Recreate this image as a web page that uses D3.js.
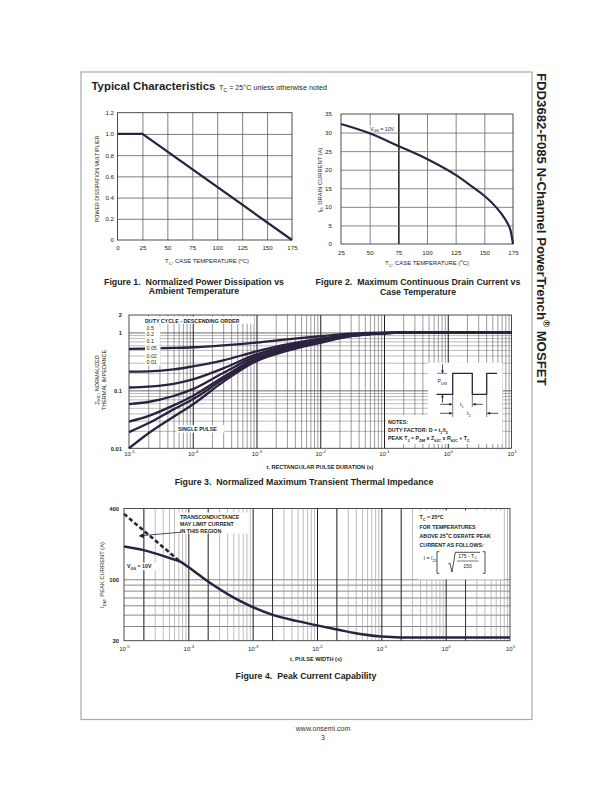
<!DOCTYPE html>
<html>
<head>
<meta charset="utf-8">
<script src="https://cdn.jsdelivr.net/npm/d3@7"></script>
<style>
  html,body{margin:0;padding:0;background:#fff;}
  svg{display:block;}
  text{font-family:"Liberation Sans",Arial,Helvetica,sans-serif;fill:#231f20;white-space:pre;}
</style>
</head>
<body>
<svg id="page" width="612" height="792" viewBox="0 0 612 792"></svg>
<script>
// ================= DATA =================
// Figure 1 – Normalized power dissipation vs case temperature
const f1CaseTemp = [0, 25, 175];
const f1PowerMultiplier = [1.0, 1.0, 0.0];
const f1XTicks = [0, 25, 50, 75, 100, 125, 150, 175];
const f1YTicks = [0, 0.2, 0.4, 0.6, 0.8, 1.0, 1.2];
const f1YLabels = ["0", "0.2", "0.4", "0.6", "0.8", "1.0", "1.2"];

// Figure 2 – Maximum continuous drain current vs case temperature
const f2CaseTemp = [25, 50, 75, 100, 125, 140, 150, 160, 165, 170, 173, 175];
const f2DrainCurrent = [32.3, 29.8, 26.4, 22.9, 18.6, 15.3, 13.0, 10.0, 8.1, 5.7, 3.5, 0];
const f2XTicks = [25, 50, 75, 100, 125, 150, 175];
const f2YTicks = [0, 5, 10, 15, 20, 25, 30, 35];

// Figure 3 – Normalized transient thermal impedance
const f3PulseDuration = [1e-5, 2e-5, 5e-5, 1e-4, 3e-4, 1e-3, 3e-3, 1e-2, 3e-2, 1e-1, 3e-1, 1, 10];
const f3Duty05     = [0.52, 0.525, 0.54, 0.555, 0.60, 0.67, 0.76, 0.86, 0.95, 0.995, 1.0, 1.0, 1.0];
const f3Duty02     = [0.21, 0.213, 0.23, 0.26, 0.33, 0.47, 0.62, 0.78, 0.90, 0.98, 1.0, 1.0, 1.0];
const f3Duty01     = [0.112, 0.116, 0.13, 0.155, 0.24, 0.42, 0.58, 0.75, 0.89, 0.975, 1.0, 1.0, 1.0];
const f3Duty005    = [0.058, 0.063, 0.08, 0.105, 0.20, 0.39, 0.55, 0.72, 0.88, 0.97, 1.0, 1.0, 1.0];
const f3Duty002    = [0.029, 0.036, 0.055, 0.08, 0.17, 0.36, 0.52, 0.70, 0.87, 0.97, 1.0, 1.0, 1.0];
const f3Duty001    = [0.019, 0.027, 0.047, 0.07, 0.155, 0.34, 0.50, 0.68, 0.865, 0.965, 1.0, 1.0, 1.0];
const f3SinglePulse = [0.0100, 0.018, 0.035, 0.057, 0.14, 0.32, 0.48, 0.66, 0.86, 0.965, 1.0, 1.0, 1.0];
const f3DutyLabels = ["0.5", "0.2", "0.1", "0.05", "0.02", "0.01"];
const f3XTicks = [1e-5, 1e-4, 1e-3, 1e-2, 1e-1, 1, 10];
const f3YTicks = [0.01, 0.1, 1, 2];
const f3YLabels = ["0.01", "0.1", "1", "2"];

// Figure 4 – Peak current capability
const f4PulseWidth = [1e-5, 2e-5, 5e-5, 7.5e-5, 1e-4, 2e-4, 5e-4, 1e-3, 2e-3, 5e-3, 1e-2, 2e-2, 5e-2, 1e-1, 2e-1, 1, 10];
const f4PeakCurrent = [190, 177, 152, 141, 127, 96, 70, 58, 50, 44, 40.5, 37.5, 34, 32.5, 32, 32, 32];
const f4LimitWidth = [1e-5, 7.5e-5];
const f4LimitCurrent = [360, 141];
const f4XTicks = [1e-5, 1e-4, 1e-3, 1e-2, 1e-1, 1, 10];
const f4YTicks = [30, 100, 400];
const f4YGrid = [40, 50, 60, 70, 80, 90, 100];

// ================= DRAWING =================
const FONT = '"Liberation Sans", Arial, Helvetica, sans-serif';
const INK = "#2c2240";
const TXT = "#231f20";
const svg = d3.select("#page");
svg.append("rect").attr("width", 612).attr("height", 792).attr("fill", "#fff");

function rich(parent, x, y, segs, o = {}) {
  const size = o.size || 6;
  const t = parent.append("text").attr("x", x).attr("y", y)
    .style("font-size", size + "px")
    .style("font-weight", o.bold ? "bold" : "normal")
    .attr("text-anchor", o.anchor || "start");
  if (o.rotate) t.attr("transform", `rotate(${o.rotate},${x},${y})`);
  let shift = 0;
  segs.forEach(s => {
    if (typeof s === "string") s = { t: s };
    const target = s.sub ? size * 0.3 : s.sup ? -size * 0.42 : 0;
    const sp = t.append("tspan").text(s.t).attr("dy", target - shift);
    shift = target;
    if (s.sub || s.sup) sp.style("font-size", (size * 0.72) + "px");
  });
  return t;
}

function cleanAxis(g, size, bold) {
  g.attr("font-family", FONT).attr("font-size", size)
    .attr("font-weight", bold ? "bold" : "normal").attr("color", TXT);
  g.select(".domain").remove();
  g.selectAll(".tick line").remove();
}

function vGrid(parent, x, y, values, color, width) {
  const [y0, y1] = y.range();
  parent.append("g").attr("transform", `translate(0,${y0})`)
    .call(d3.axisBottom(x).tickValues(values).tickSize(-(y0 - y1)).tickFormat(""))
    .call(g => { g.select(".domain").remove(); g.selectAll(".tick line").attr("stroke", color).attr("stroke-width", width); });
}
function hGrid(parent, x, y, values, color, width) {
  const [x0, x1] = x.range();
  parent.append("g").attr("transform", `translate(${x0},0)`)
    .call(d3.axisLeft(y).tickValues(values).tickSize(-(x1 - x0)).tickFormat(""))
    .call(g => { g.select(".domain").remove(); g.selectAll(".tick line").attr("stroke", color).attr("stroke-width", width); });
}
function plotFrame(parent, x, y, color, width) {
  const [x0, x1] = x.range(), [y0, y1] = y.range();
  parent.append("rect").attr("x", x0).attr("y", y1).attr("width", x1 - x0).attr("height", y0 - y1)
    .attr("fill", "none").attr("stroke", color).attr("stroke-width", width);
}
function whiteBox(parent, x, y, w, h) {
  parent.append("rect").attr("x", x).attr("y", y).attr("width", w).attr("height", h).attr("fill", "#fff");
}
function arrow(parent, x, y, dir, len, size) {
  // (x,y) = tip
  const s = size || 2.4;
  let tail, tri;
  if (dir === "right") { tail = [x - len, y]; tri = [[x, y], [x - s * 1.6, y - s * 0.8], [x - s * 1.6, y + s * 0.8]]; }
  if (dir === "left")  { tail = [x + len, y]; tri = [[x, y], [x + s * 1.6, y - s * 0.8], [x + s * 1.6, y + s * 0.8]]; }
  if (dir === "down")  { tail = [x, y - len]; tri = [[x, y], [x - s * 0.8, y - s * 1.6], [x + s * 0.8, y - s * 1.6]]; }
  if (dir === "up")    { tail = [x, y + len]; tri = [[x, y], [x - s * 0.8, y + s * 1.6], [x + s * 0.8, y + s * 1.6]]; }
  parent.append("line").attr("x1", tail[0]).attr("y1", tail[1]).attr("x2", x).attr("y2", y)
    .attr("stroke", TXT).attr("stroke-width", 0.8);
  parent.append("polygon").attr("points", tri.map(p => p.join(",")).join(" ")).attr("fill", TXT);
}
function powerLabels(g, size) {
  g.selectAll(".tick text").each(function (d) {
    const t = d3.select(this);
    t.text("");
    t.append("tspan").text("10");
    t.append("tspan").attr("dy", -size * 0.45).style("font-size", (size * 0.72) + "px")
      .text(String(Math.round(Math.log10(d))));
  });
}

// ---------- Page frame & headings ----------
svg.append("rect").attr("x", 81).attr("y", 72).attr("width", 451).attr("height", 647.5)
  .attr("fill", "none").attr("stroke", "#a9a9a9").attr("stroke-width", 1.2);

rich(svg, 91.5, 89.5, [{ t: "Typical Characteristics" }], { size: 11.4, bold: true });
rich(svg, 219, 89.5, ["T", { t: "C", sub: true }, " = 25°C unless otherwise noted"], { size: 7.2 });

rich(svg, 537, 73, ["FDD3682-F085 N-Channel PowerTrench", { t: "®", sup: true }, " MOSFET"],
  { size: 13.2, bold: true, rotate: 90 });

svg.append("text").attr("x", 323).attr("y", 730.5).attr("text-anchor", "middle")
  .style("font-size", "7px").style("fill", "#333").text("www.onsemi.com");
svg.append("text").attr("x", 323).attr("y", 740).attr("text-anchor", "middle")
  .style("font-size", "7px").style("fill", "#333").text("3");

// ---------- Figure 1 ----------
{
  const g = svg.append("g");
  const x = d3.scaleLinear().domain([0, 175]).range([117.5, 292]);
  const y = d3.scaleLinear().domain([0, 1.2]).range([240, 112.7]);
  vGrid(g, x, y, f1XTicks.slice(1, -1), "#5e5e5e", 0.8);
  hGrid(g, x, y, f1YTicks.slice(1, -1), "#5e5e5e", 0.8);
  plotFrame(g, x, y, "#3a3a3a", 0.9);
  g.append("path").datum(f1CaseTemp.map((t, i) => [t, f1PowerMultiplier[i]]))
    .attr("d", d3.line().x(d => x(d[0])).y(d => y(d[1])))
    .attr("fill", "none").attr("stroke", INK).attr("stroke-width", 2.2);
  g.append("g").attr("transform", `translate(0,${y.range()[0]})`)
    .call(d3.axisBottom(x).tickValues(f1XTicks).tickSize(0).tickPadding(6))
    .call(a => cleanAxis(a, 6.2));
  g.append("g").attr("transform", `translate(${x.range()[0]},0)`)
    .call(d3.axisLeft(y).tickValues(f1YTicks).tickSize(0).tickPadding(3.5).tickFormat((d, i) => f1YLabels[i]))
    .call(a => cleanAxis(a, 6.2));
  rich(g, 207, 263, ["T", { t: "C", sub: true }, ", CASE TEMPERATURE (", { t: "o", sup: true }, "C)"], { size: 5.9, anchor: "middle" });
  rich(g, 98.5, 179, ["POWER DISSIPATION MULTIPLIER"], { size: 5.3, anchor: "middle", rotate: -90 });
  rich(g, 194, 284.5, ["Figure 1.  Normalized Power Dissipation vs"], { size: 8.8, bold: true, anchor: "middle" });
  rich(g, 194, 293.8, ["Ambient Temperature"], { size: 8.8, bold: true, anchor: "middle" });
}

// ---------- Figure 2 ----------
{
  const g = svg.append("g");
  const x = d3.scaleLinear().domain([25, 175]).range([341, 513]);
  const y = d3.scaleLinear().domain([0, 35]).range([244, 114]);
  vGrid(g, x, y, f2XTicks.slice(1, -1), "#6a6a6a", 0.8);
  vGrid(g, x, y, [75], "#1e1e1e", 1.4);
  hGrid(g, x, y, f2YTicks.slice(1, -1), "#6a6a6a", 0.8);
  plotFrame(g, x, y, "#3a3a3a", 0.9);
  whiteBox(g, 368.5, 125.5, 19.5, 6.2);
  rich(g, 370, 130.6, ["V", { t: "GS", sub: true }, " = 10V"], { size: 5.2 });
  g.append("path").datum(f2CaseTemp.map((t, i) => [t, f2DrainCurrent[i]]))
    .attr("d", d3.line().x(d => x(d[0])).y(d => y(d[1])).curve(d3.curveMonotoneX))
    .attr("fill", "none").attr("stroke", INK).attr("stroke-width", 2.2);
  g.append("g").attr("transform", `translate(0,${y.range()[0]})`)
    .call(d3.axisBottom(x).tickValues(f2XTicks).tickSize(0).tickPadding(6.5))
    .call(a => cleanAxis(a, 6.2));
  g.append("g").attr("transform", `translate(${x.range()[0]},0)`)
    .call(d3.axisLeft(y).tickValues(f2YTicks).tickSize(0).tickPadding(9))
    .call(a => cleanAxis(a, 6.2));
  rich(g, 427, 264.8, ["T", { t: "C", sub: true }, ", CASE TEMPERATURE (", { t: "o", sup: true }, "C)"], { size: 5.9, anchor: "middle" });
  rich(g, 321.5, 180, ["I", { t: "D", sub: true }, ", DRAIN CURRENT (A)"], { size: 5.8, anchor: "middle", rotate: -90 });
  rich(g, 418, 285.3, ["Figure 2.  Maximum Continuous Drain Current vs"], { size: 8.8, bold: true, anchor: "middle" });
  rich(g, 418, 294.6, ["Case Temperature"], { size: 8.8, bold: true, anchor: "middle" });
}

// ---------- Figure 3 ----------
{
  const g = svg.append("g");
  const x = d3.scaleLog().domain([1e-5, 10]).range([129, 511.5]);
  const y = d3.scaleLog().domain([0.01, 2]).range([448.3, 315]);
  const xMinor = x.ticks().filter(v => !f3XTicks.some(t => Math.abs(t - v) / t < 1e-6));
  const yMinor = y.ticks().filter(v => ![0.01, 0.1, 1, 2].some(t => Math.abs(t - v) / t < 1e-6));
  hGrid(g, x, y, yMinor, "#8c8c8c", 0.6);
  hGrid(g, x, y, [0.1, 1], "#444", 0.8);
  vGrid(g, x, y, xMinor, "#5a5a5a", 0.6);
  vGrid(g, x, y, f3XTicks.slice(1, -1), "#1e1e1e", 1.0);
  plotFrame(g, x, y, "#3a3a3a", 0.9);

  const series = [f3Duty05, f3Duty02, f3Duty01, f3Duty005, f3Duty002, f3Duty001, f3SinglePulse];
  const line = d3.line().x(d => x(d[0])).y(d => y(d[1])).curve(d3.curveMonotoneX);
  series.forEach(s => {
    g.append("path").datum(f3PulseDuration.map((t, i) => [t, s[i]]))
      .attr("d", line).attr("fill", "none").attr("stroke", INK).attr("stroke-width", 2.3);
  });

  // legend
  whiteBox(g, 143.5, 316.5, 110.5, 7.2);
  rich(g, 145, 322.6, ["DUTY CYCLE - DESCENDING ORDER"], { size: 5.3, bold: true });
  const legY = [329.8, 336.2, 343.1, 350.3, 357.6, 364.2];
  f3DutyLabels.forEach((lab, i) => {
    whiteBox(g, 145, legY[i] - 5, 15.5, 6.4);
    rich(g, 146.5, legY[i], [lab], { size: 5.3 });
  });
  whiteBox(g, 176.5, 425.2, 48, 7.4);
  rich(g, 178, 431.3, ["SINGLE PULSE"], { size: 5.3, bold: true });

  // notes with pulse diagram
  whiteBox(g, 428, 362.5, 74.5, 53);
  whiteBox(g, 386, 415, 116.5, 29);
  const wave = g.append("path")
    .attr("d", "M436.5,394.3 H452.7 V373.3 H472.3 V394.3 H486.7 V373.3 H497")
    .attr("fill", "none").attr("stroke", INK).attr("stroke-width", 1.3);
  g.append("line").attr("x1", 437).attr("x2", 447).attr("y1", 373.3).attr("y2", 373.3).attr("stroke", TXT).attr("stroke-width", 0.6);
  arrow(g, 442.5, 373.3, "down", 9, 1.8);
  arrow(g, 442.5, 394.6, "up", 8, 1.8);
  rich(g, 437.5, 383.2, ["P", { t: "DM", sub: true }], { size: 5.3 });
  [[452.7, 417], [472.3, 407], [486.7, 417]].forEach(([xx, yy]) => {
    g.append("line").attr("x1", xx).attr("x2", xx).attr("y1", 394.3).attr("y2", yy).attr("stroke", TXT).attr("stroke-width", 0.6);
  });
  arrow(g, 452.2, 404.3, "right", 12, 1.8);
  arrow(g, 472.8, 404.3, "left", 10, 1.8);
  rich(g, 460, 406.2, ["t", { t: "1", sub: true }], { size: 5.3 });
  arrow(g, 452.2, 413.3, "right", 12, 1.8);
  arrow(g, 487.2, 413.3, "left", 11, 1.8);
  rich(g, 467, 415.2, ["t", { t: "2", sub: true }], { size: 5.3 });
  rich(g, 388, 424.3, ["NOTES:"], { size: 5.3, bold: true });
  rich(g, 388, 432.3, ["DUTY FACTOR: D = t", { t: "1", sub: true }, "/t", { t: "2", sub: true }], { size: 5.3, bold: true });
  rich(g, 388, 440.3, ["PEAK T", { t: "J", sub: true }, " = P", { t: "DM", sub: true }, " x Z", { t: "θJC", sub: true },
    " x R", { t: "θJC", sub: true }, " + T", { t: "C", sub: true }], { size: 5.3, bold: true });

  // axes
  g.append("g").attr("transform", `translate(0,${y.range()[0]})`)
    .call(d3.axisBottom(x).tickValues(f3XTicks).tickSize(0).tickPadding(3.5))
    .call(a => { cleanAxis(a, 6); powerLabels(a, 6); });
  g.append("g").attr("transform", `translate(${x.range()[0]},0)`)
    .call(d3.axisLeft(y).tickValues(f3YTicks).tickSize(0).tickPadding(7).tickFormat((d, i) => f3YLabels[i]))
    .call(a => cleanAxis(a, 5.8, true));
  rich(g, 320, 468.6, ["t, RECTANGULAR PULSE DURATION (s)"], { size: 5.6, bold: true, anchor: "middle" });
  rich(g, 98.8, 380, ["Z", { t: "θJC", sub: true }, ", NORMALIZED"], { size: 5.5, anchor: "middle", rotate: -90 });
  rich(g, 105.6, 380, ["THERMAL IMPEDANCE"], { size: 5.5, anchor: "middle", rotate: -90 });
  rich(g, 304, 484.8, ["Figure 3.  Normalized Maximum Transient Thermal Impedance"], { size: 8.8, bold: true, anchor: "middle" });
}

// ---------- Figure 4 ----------
{
  const g = svg.append("g");
  const x = d3.scaleLog().domain([1e-5, 10]).range([124, 510]);
  const y = d3.scaleLog().domain([30, 400]).range([640.7, 508.5]);
  const xMinor = x.ticks().filter(v => !f4XTicks.some(t => Math.abs(t - v) / t < 1e-6));
  const xTwos = xMinor.filter(v => Math.abs(v / Math.pow(10, Math.floor(Math.log10(v) + 1e-9)) - 2) < 1e-6);
  hGrid(g, x, y, f4YGrid, "#555", 0.7);
  vGrid(g, x, y, xMinor, "#a0a0a0", 0.7);
  vGrid(g, x, y, xTwos, "#222", 0.9);
  vGrid(g, x, y, f4XTicks.slice(1, -1), "#1e1e1e", 1.0);
  plotFrame(g, x, y, "#3a3a3a", 0.9);

  // annotation boxes
  whiteBox(g, 178, 512.5, 70.5, 21);
  rich(g, 180, 518.8, ["TRANSCONDUCTANCE"], { size: 5.3, bold: true });
  rich(g, 180, 525.8, ["MAY LIMIT CURRENT"], { size: 5.3, bold: true });
  rich(g, 180, 532.6, ["IN THIS REGION"], { size: 5.3, bold: true });
  g.append("line").attr("x1", 181).attr("y1", 532.2).attr("x2", 142).attr("y2", 535.6).attr("stroke", TXT).attr("stroke-width", 0.8);
  g.append("polygon").attr("points", "138.5,536 143.5,533.2 144,538.3").attr("fill", TXT);
  whiteBox(g, 125.5, 562.5, 31, 7.6);
  rich(g, 127, 568.3, ["V", { t: "GS", sub: true }, " = 10V"], { size: 5.3, bold: true });

  whiteBox(g, 417.5, 510.5, 86, 69);
  rich(g, 419.5, 519, ["T", { t: "C", sub: true }, " = 25", { t: "o", sup: true }, "C"], { size: 5.3, bold: true });
  rich(g, 419.5, 528.6, ["FOR TEMPERATURES"], { size: 5.3, bold: true });
  rich(g, 419.5, 537.6, ["ABOVE 25", { t: "o", sup: true }, "C DERATE PEAK"], { size: 5.3, bold: true });
  rich(g, 419.5, 546.6, ["CURRENT AS FOLLOWS:"], { size: 5.3, bold: true });
  rich(g, 423.5, 560.2, ["I = I", { t: "25", sub: true }], { size: 5.3, bold: false });
  g.append("path").attr("d", "M439.3,551.7 H437 V573.3 H439.3").attr("fill", "none").attr("stroke", TXT).attr("stroke-width", 0.8);
  g.append("path").attr("d", "M482.7,551.7 H485 V573.3 H482.7").attr("fill", "none").attr("stroke", TXT).attr("stroke-width", 0.8);
  g.append("path").attr("d", "M448.3,564 L449.8,563 L452,572 L455.3,552.3 H480").attr("fill", "none").attr("stroke", TXT).attr("stroke-width", 0.8);
  rich(g, 467.5, 557.6, ["175 - T", { t: "C", sub: true }], { size: 5.1, anchor: "middle" });
  g.append("line").attr("x1", 457).attr("x2", 478.5).attr("y1", 561).attr("y2", 561).attr("stroke", TXT).attr("stroke-width", 0.6);
  rich(g, 467.5, 568.4, ["150"], { size: 5.1, anchor: "middle" });

  // curves
  g.append("path").datum(f4LimitWidth.map((t, i) => [t, f4LimitCurrent[i]]))
    .attr("d", d3.line().x(d => x(d[0])).y(d => y(d[1])))
    .attr("fill", "none").attr("stroke", INK).attr("stroke-width", 2.6).attr("stroke-dasharray", "4.2,2.6");
  g.append("path").datum(f4PulseWidth.map((t, i) => [t, f4PeakCurrent[i]]))
    .attr("d", d3.line().x(d => x(d[0])).y(d => y(d[1])).curve(d3.curveMonotoneX))
    .attr("fill", "none").attr("stroke", INK).attr("stroke-width", 2.5);

  // axes
  g.append("g").attr("transform", `translate(0,${y.range()[0]})`)
    .call(d3.axisBottom(x).tickValues(f4XTicks).tickSize(0).tickPadding(6))
    .call(a => { cleanAxis(a, 6); powerLabels(a, 6); });
  g.append("g").attr("transform", `translate(${x.range()[0]},0)`)
    .call(d3.axisLeft(y).tickValues(f4YTicks).tickSize(0).tickPadding(5).tickFormat(d3.format("d")))
    .call(a => cleanAxis(a, 5.8, true));
  rich(g, 316, 660.5, ["t, PULSE WIDTH (s)"], { size: 5.6, bold: true, anchor: "middle" });
  rich(g, 104, 575, ["I", { t: "DM", sub: true }, ", PEAK CURRENT (A)"], { size: 5.8, anchor: "middle", rotate: -90 });
  rich(g, 306, 679, ["Figure 4.  Peak Current Capability"], { size: 8.8, bold: true, anchor: "middle" });
}
</script>
</body>
</html>
